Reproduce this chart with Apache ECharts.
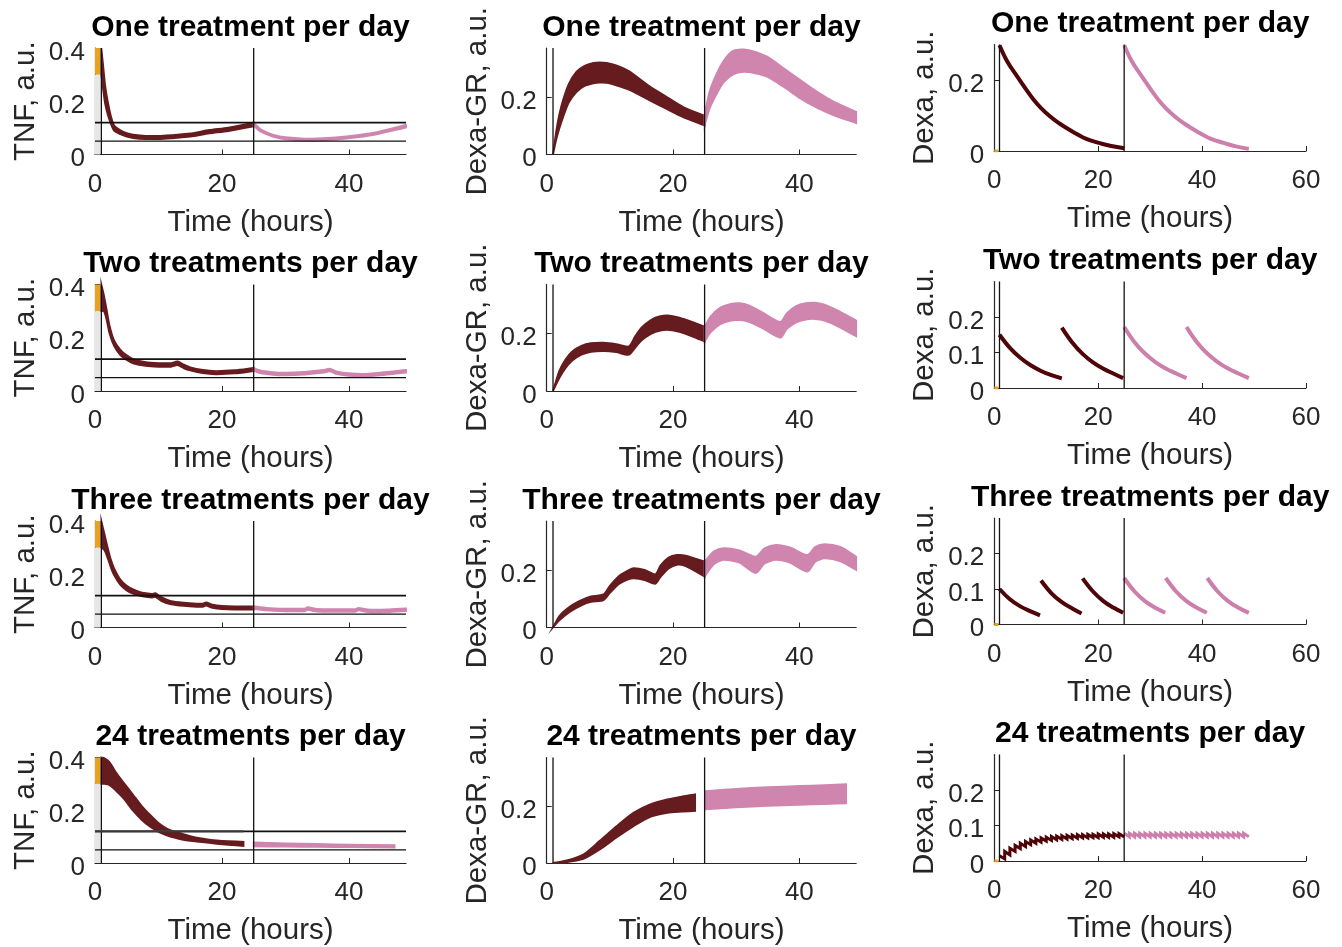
<!DOCTYPE html>
<html>
<head>
<meta charset="utf-8">
<title>Dexamethasone dosing schedules</title>
<script src="https://cdn.jsdelivr.net/npm/echarts@6/dist/echarts.min.js"></script>
<style>
  html, body { margin: 0; padding: 0; background: #fff; }
  #chart { width: 1342px; height: 947px; }
</style>
</head>
<body>
<div id="chart"></div>
<script>
// ---- labels ----
var rowTitles = ['One treatment per day', 'Two treatments per day', 'Three treatments per day', '24 treatments per day'];
var colNames = ['TNF, a.u.', 'Dexa-GR, a.u.', 'Dexa, a.u.'];
var xTicksShort = [0, 20, 40];
var xTicksLong = [0, 20, 40, 60];
var tnfTicks = [0, 0.2, 0.4];
var grTicks = [0, 0.2];
var dexaTicksOne = [0, 0.2];
var dexaTicks = [0, 0.1, 0.2];

// reference marks
var doseLines = [1, 25];          // vertical lines (hours)
var tnfLimits = [0.12, 0.05];     // horizontal TNF thresholds
var tnfStartRange = [0.3, 0.4];   // orange initial TNF box
var tnfStartWindow = [0, 0.8];

// ---- TNF, one treatment ----
var tnf1DarkT  = [1, 1.3, 1.6, 2, 2.5, 3, 4, 5, 6, 8, 10, 12, 15, 18, 21, 25];
var tnf1DarkLo = [0.30, 0.24, 0.19, 0.15, 0.115, 0.09, 0.076, 0.067, 0.062, 0.058, 0.058, 0.061, 0.067, 0.079, 0.088, 0.106];
var tnf1DarkHi = [0.40, 0.33, 0.26, 0.20, 0.145, 0.11, 0.091, 0.080, 0.075, 0.070, 0.070, 0.073, 0.079, 0.092, 0.101, 0.120];
var tnf1PinkT  = [25, 26, 27, 28, 30, 33, 36, 40, 44, 49];
var tnf1PinkLo = [0.108, 0.087, 0.076, 0.067, 0.057, 0.052, 0.053, 0.061, 0.074, 0.101];
var tnf1PinkHi = [0.120, 0.097, 0.084, 0.075, 0.065, 0.060, 0.061, 0.069, 0.082, 0.111];

// ---- TNF, two treatments ----
var tnf2DarkT  = [1, 1.4, 1.8, 2.3, 3, 4, 5, 6, 8, 10, 12, 13, 14, 15, 17, 19, 22, 25];
var tnf2DarkLo = [0.30, 0.30, 0.27, 0.215, 0.17, 0.135, 0.116, 0.104, 0.094, 0.091, 0.091, 0.097, 0.085, 0.077, 0.067, 0.063, 0.066, 0.075];
var tnf2DarkHi = [0.40, 0.36, 0.31, 0.245, 0.19, 0.155, 0.134, 0.120, 0.108, 0.105, 0.105, 0.111, 0.099, 0.089, 0.079, 0.075, 0.078, 0.087];
var tnf2PinkT  = [25, 26, 28, 30, 33, 36, 37, 38, 40, 42, 45, 49];
var tnf2PinkLo = [0.076, 0.067, 0.061, 0.059, 0.062, 0.069, 0.074, 0.064, 0.057, 0.054, 0.059, 0.069];
var tnf2PinkHi = [0.086, 0.077, 0.071, 0.069, 0.072, 0.079, 0.084, 0.074, 0.067, 0.064, 0.069, 0.079];

// ---- TNF, three treatments ----
var tnf3DarkT  = [1, 1.5, 2, 2.5, 3, 4, 5, 6, 7, 8, 9, 9.5, 10.5, 12, 14, 16, 17, 17.5, 18.5, 20, 22, 25];
var tnf3DarkLo = [0.30, 0.29, 0.26, 0.225, 0.197, 0.16, 0.139, 0.127, 0.120, 0.115, 0.112, 0.115, 0.099, 0.087, 0.081, 0.078, 0.078, 0.082, 0.074, 0.069, 0.067, 0.067];
var tnf3DarkHi = [0.40, 0.35, 0.30, 0.255, 0.223, 0.18, 0.157, 0.143, 0.134, 0.129, 0.126, 0.129, 0.113, 0.099, 0.093, 0.090, 0.090, 0.094, 0.086, 0.081, 0.079, 0.079];
var tnf3PinkT  = [25, 27, 30, 33, 33.5, 35, 38, 41, 41.5, 43, 46, 49];
var tnf3PinkLo = [0.070, 0.064, 0.061, 0.061, 0.066, 0.060, 0.059, 0.059, 0.064, 0.058, 0.058, 0.062];
var tnf3PinkHi = [0.080, 0.074, 0.071, 0.071, 0.076, 0.070, 0.069, 0.069, 0.074, 0.068, 0.068, 0.072];

// ---- TNF, 24 treatments ----
var tnf4DarkT  = [1, 1.5, 2.3, 3.4, 4.5, 6, 7.3, 8.7, 10, 11.3, 12.5, 13.9, 15, 16.5, 18, 19.2, 21, 23.4];
var tnf4DarkLo = [0.300, 0.300, 0.295, 0.272, 0.245, 0.198, 0.165, 0.137, 0.118, 0.105, 0.096, 0.088, 0.084, 0.080, 0.076, 0.073, 0.069, 0.064];
var tnf4DarkHi = [0.400, 0.397, 0.382, 0.340, 0.305, 0.259, 0.218, 0.182, 0.152, 0.131, 0.120, 0.110, 0.102, 0.094, 0.089, 0.086, 0.083, 0.080];
var tnf4PinkT  = [25, 30, 35, 40, 47.2];
var tnf4PinkLo = [0.063, 0.062, 0.061, 0.060, 0.058];
var tnf4PinkHi = [0.078, 0.074, 0.072, 0.070, 0.068];

// ---- Dexa-GR ----
var gr1DarkT  = [1, 1.5, 2, 2.6, 3.5, 4.7, 6, 7.4, 8.4, 9.5, 11, 13, 16.4, 19, 21.6, 25];
var gr1DarkLo = [0, 0.05, 0.09, 0.13, 0.18, 0.217, 0.238, 0.247, 0.25, 0.249, 0.24, 0.225, 0.187, 0.158, 0.13, 0.101];
var gr1DarkHi = [0, 0.08, 0.14, 0.19, 0.245, 0.287, 0.308, 0.318, 0.32, 0.318, 0.31, 0.29, 0.235, 0.20, 0.165, 0.135];
var gr1PinkT  = [25, 25.8, 26.9, 28, 29.5, 31.2, 33, 34.9, 37.5, 40.2, 43, 45.5, 49];
var gr1PinkLo = [0.10, 0.16, 0.21, 0.25, 0.278, 0.287, 0.282, 0.27, 0.235, 0.194, 0.16, 0.136, 0.109];
var gr1PinkHi = [0.14, 0.22, 0.28, 0.325, 0.36, 0.365, 0.357, 0.34, 0.30, 0.258, 0.215, 0.183, 0.148];

var gr2DarkT  = [1, 2, 3, 4, 5.5, 7, 9, 11, 13, 14, 15, 16.5, 18, 19.5, 21, 23, 25];
var gr2DarkLo = [0, 0.045, 0.08, 0.105, 0.126, 0.136, 0.139, 0.135, 0.126, 0.15, 0.175, 0.198, 0.21, 0.212, 0.205, 0.19, 0.172];
var gr2DarkHi = [0, 0.07, 0.11, 0.137, 0.157, 0.166, 0.168, 0.163, 0.155, 0.19, 0.22, 0.247, 0.26, 0.262, 0.255, 0.24, 0.223];
var gr2PinkT  = [25, 26, 27.5, 29, 30.5, 32, 34, 37, 38, 39.5, 41, 42.5, 44, 46, 49];
var gr2PinkLo = [0.172, 0.205, 0.232, 0.244, 0.246, 0.24, 0.22, 0.185, 0.215, 0.238, 0.248, 0.25, 0.244, 0.225, 0.19];
var gr2PinkHi = [0.223, 0.26, 0.29, 0.302, 0.305, 0.298, 0.275, 0.24, 0.27, 0.295, 0.305, 0.307, 0.30, 0.28, 0.245];

var gr3DarkT  = [1, 2, 3.7, 5.5, 7, 9, 10, 11.5, 13, 13.8, 15.5, 17.2, 18, 19.3, 20.6, 22, 25];
var gr3DarkLo = [0, 0.025, 0.055, 0.077, 0.089, 0.095, 0.12, 0.152, 0.168, 0.171, 0.165, 0.152, 0.175, 0.205, 0.218, 0.213, 0.177];
var gr3DarkHi = [0, 0.04, 0.073, 0.095, 0.108, 0.115, 0.145, 0.18, 0.20, 0.206, 0.20, 0.185, 0.215, 0.243, 0.252, 0.25, 0.229];
var gr3PinkT  = [25, 26.5, 28, 30.5, 33.1, 34.5, 36.3, 38.5, 41.3, 42.5, 44, 46.5, 49];
var gr3PinkLo = [0.177, 0.22, 0.235, 0.225, 0.189, 0.222, 0.235, 0.225, 0.194, 0.228, 0.24, 0.23, 0.20];
var gr3PinkHi = [0.229, 0.265, 0.276, 0.268, 0.246, 0.275, 0.287, 0.278, 0.252, 0.28, 0.29, 0.28, 0.246];

var gr4DarkT  = [1, 3, 5.8, 8.4, 11.1, 13.8, 16.4, 19.1, 21.5, 23.5];
var gr4DarkLo = [0, 0.002, 0.014, 0.047, 0.09, 0.13, 0.162, 0.176, 0.18, 0.183];
var gr4DarkHi = [0, 0.008, 0.030, 0.078, 0.13, 0.177, 0.206, 0.223, 0.234, 0.241];
var gr4PinkT  = [25.2, 30, 35, 40, 44, 47.4];
var gr4PinkLo = [0.188, 0.195, 0.20, 0.204, 0.207, 0.209];
var gr4PinkHi = [0.252, 0.26, 0.266, 0.27, 0.273, 0.276];

// ---- Dexa (one curve per dose) ----
var dexa1DarkT = [[1, 2.5, 4.3, 6, 7.5, 9, 10.7, 12.3, 13.9, 15.5, 17.1, 18.7, 20.3, 22.5, 25]];
var dexa1DarkY = [[0.298, 0.252, 0.212, 0.176, 0.146, 0.121, 0.098, 0.080, 0.065, 0.051, 0.038, 0.029, 0.022, 0.014, 0.008]];
var dexa1PinkT = [[25, 26.5, 28.3, 30, 31.5, 33, 34.7, 36.3, 37.9, 39.5, 41.1, 42.7, 44.3, 46.5, 49]];
var dexa1PinkY = [[0.298, 0.252, 0.212, 0.176, 0.146, 0.121, 0.098, 0.080, 0.065, 0.051, 0.038, 0.029, 0.022, 0.013, 0.006]];

var dexa2DarkT = [[1, 3, 5, 7, 9, 11, 13], [13, 15, 17, 19, 21, 23, 24.8]];
var dexa2DarkY = [[0.150, 0.113, 0.085, 0.064, 0.048, 0.036, 0.027], [0.170, 0.128, 0.096, 0.072, 0.054, 0.040, 0.028]];
var dexa2PinkT = [[25, 27, 29, 31, 33, 35, 37], [37, 39, 41, 43, 45, 47, 49]];
var dexa2PinkY = [[0.172, 0.129, 0.097, 0.073, 0.055, 0.041, 0.028], [0.172, 0.129, 0.097, 0.073, 0.055, 0.041, 0.028]];

var dexa3DarkT = [[1, 3, 5, 7, 8.8], [9, 11, 13, 15, 16.8], [17, 19, 21, 23, 24.8]];
var dexa3DarkY = [[0.100, 0.071, 0.051, 0.037, 0.026], [0.124, 0.088, 0.063, 0.045, 0.031], [0.130, 0.093, 0.066, 0.047, 0.033]];
var dexa3PinkT = [[25, 27, 29, 31, 32.9], [33, 35, 37, 39, 40.9], [41, 43, 45, 47, 49]];
var dexa3PinkY = [[0.131, 0.093, 0.066, 0.047, 0.033], [0.131, 0.093, 0.066, 0.047, 0.033], [0.131, 0.093, 0.066, 0.047, 0.033]];

// 24 per day: peak right after each hourly dose, trough just before the next
var dexa24DarkT = [1, 2, 3, 4, 5, 6, 7, 8, 9, 10, 11, 12, 13, 14, 15, 16, 17, 18, 19, 20, 21, 22, 23, 24, 25];
var dexa24DarkPeak = [0.015, 0.027, 0.036, 0.044, 0.050, 0.055, 0.059, 0.062, 0.065, 0.067, 0.069, 0.070, 0.071, 0.072, 0.073, 0.074, 0.074, 0.075, 0.075, 0.076, 0.076, 0.076, 0.077, 0.077];
var dexa24DarkTrough = [0.006, 0.017, 0.027, 0.035, 0.041, 0.046, 0.050, 0.053, 0.056, 0.058, 0.060, 0.061, 0.062, 0.063, 0.064, 0.065, 0.065, 0.066, 0.066, 0.067, 0.067, 0.067, 0.068, 0.068];
var dexa24PinkT = [25, 26, 27, 28, 29, 30, 31, 32, 33, 34, 35, 36, 37, 38, 39, 40, 41, 42, 43, 44, 45, 46, 47, 48, 49];
var dexa24PinkPeak = [0.078, 0.078, 0.078, 0.078, 0.078, 0.078, 0.078, 0.078, 0.078, 0.078, 0.078, 0.078, 0.078, 0.078, 0.078, 0.078, 0.078, 0.078, 0.078, 0.078, 0.078, 0.078, 0.078, 0.078];
var dexa24PinkTrough = [0.068, 0.068, 0.068, 0.068, 0.068, 0.068, 0.068, 0.068, 0.068, 0.068, 0.068, 0.068, 0.068, 0.068, 0.068, 0.068, 0.068, 0.068, 0.068, 0.068, 0.068, 0.068, 0.068, 0.068];

// ---- style ----
var FONT = "'Liberation Sans', Arial, Helvetica, sans-serif";
var INK = '#262626';
var DARK_BAND = '#661b1e';
var PINK_BAND = '#cf85ae';
var DARK_LINE = '#4f0408';
var PINK_LINE = '#cd7fac';
var ORANGE = '#e8a21c';

var colLeft = [95, 546.7, 994.3];
var colWidth = [311, 309.5, 311.7];
var rowTop = [[48, 284.5, 521, 757.5], [48, 284.5, 521, 757.5], [44.5, 281.5, 518, 754.5]];
var PANEL_H = 106.5;
var xMax = [49, 49, 60];
var yMax = [0.4, 0.37, 0.3];

var grid = [], xAxis = [], yAxis = [], series = [], title = [];

function addPanel(r, c, xTicks, yTicks) {
  var gi = grid.length;
  grid.push({ left: colLeft[c], top: rowTop[c][r], width: colWidth[c], height: PANEL_H });
  xAxis.push({
    gridIndex: gi, type: 'value', min: 0, max: xMax[c],
    name: 'Time (hours)', nameLocation: 'middle', nameGap: 53,
    nameTextStyle: { fontSize: 29.5, color: INK, fontFamily: FONT },
    axisLine: { show: true, onZero: false, lineStyle: { color: INK, width: 1.2 } },
    axisTick: { show: true, inside: true, length: 5, lineStyle: { color: INK }, customValues: xTicks },
    axisLabel: { fontSize: 26, color: INK, margin: 17, fontFamily: FONT, customValues: xTicks },
    splitLine: { show: false }
  });
  yAxis.push({
    gridIndex: gi, type: 'value', min: 0, max: yMax[c],
    name: colNames[c], nameLocation: 'middle', nameGap: 54,
    nameTextStyle: { fontSize: 29.5, color: INK, fontFamily: FONT },
    axisLine: { show: true, onZero: false, lineStyle: { color: INK, width: 1.2 } },
    axisTick: { show: true, inside: true, length: 5, lineStyle: { color: INK }, customValues: yTicks },
    // MATLAB draws these labels a few pixels below their tick
    axisLabel: { fontSize: 26, color: INK, margin: 10, fontFamily: FONT, customValues: yTicks,
                 verticalAlign: 'top', lineHeight: 9 },
    splitLine: { show: false }
  });
  title.push({
    text: rowTitles[r], left: colLeft[c] + colWidth[c] / 2, top: rowTop[c][r] - 35.5,
    textAlign: 'center', padding: 0,
    textStyle: { fontSize: 30, fontWeight: 'bold', color: '#000', fontFamily: FONT }
  });
  return gi;
}

// filled band between lo and hi, one polygon through the axis scales.
// end points are doubled so the smoothing keeps the cut ends straight
function band(gi, t, lo, hi, color) {
  series.push({
    type: 'custom', xAxisIndex: gi, yAxisIndex: gi, silent: true, z: 3,
    data: t.map(function (x, i) { return [x, lo[i], hi[i]]; }),
    encode: { x: 0, y: [1, 2] },
    renderItem: function (params, api) {
      if (params.dataIndex !== 0) return null;
      var n = t.length, pts = [];
      pts.push(api.coord([t[0], hi[0]]));
      for (var i = 0; i < n; i++) pts.push(api.coord([t[i], hi[i]]));
      pts.push(api.coord([t[n - 1], hi[n - 1]]));
      pts.push(api.coord([t[n - 1], lo[n - 1]]));
      for (var j = n - 1; j >= 0; j--) pts.push(api.coord([t[j], lo[j]]));
      pts.push(api.coord([t[0], lo[0]]));
      return {
        type: 'polygon',
        shape: { points: pts, smooth: 0.25 },
        style: { fill: color, stroke: color, lineWidth: 1.8 }
      };
    }
  });
}

function curve(gi, t, y, color, width, smooth) {
  series.push({
    type: 'line', xAxisIndex: gi, yAxisIndex: gi, silent: true, z: 3,
    symbol: 'none', smooth: smooth, clip: false,
    lineStyle: { color: color, width: width },
    data: t.map(function (x, i) { return [x, y[i]]; })
  });
}

function segment(gi, pts, color, width, z) {
  series.push({
    type: 'line', xAxisIndex: gi, yAxisIndex: gi, silent: true, z: z || 4,
    symbol: 'none', lineStyle: { color: color, width: width, join: 'miter' },
    data: pts
  });
}

function doseMarks(gi, c) {
  doseLines.forEach(function (d) {
    segment(gi, [[d, 0], [d, yMax[c]]], '#111', 1.3, 5);
  });
}

function sawtooth(t, peak, trough) {
  var pts = [];
  for (var i = 0; i < peak.length; i++) {
    pts.push([t[i], peak[i]]);
    pts.push([t[i + 1], trough[i]]);
  }
  return pts;
}

var tnfRows = [
  [tnf1DarkT, tnf1DarkLo, tnf1DarkHi, tnf1PinkT, tnf1PinkLo, tnf1PinkHi],
  [tnf2DarkT, tnf2DarkLo, tnf2DarkHi, tnf2PinkT, tnf2PinkLo, tnf2PinkHi],
  [tnf3DarkT, tnf3DarkLo, tnf3DarkHi, tnf3PinkT, tnf3PinkLo, tnf3PinkHi],
  [tnf4DarkT, tnf4DarkLo, tnf4DarkHi, tnf4PinkT, tnf4PinkLo, tnf4PinkHi]
];
var grRows = [
  [gr1DarkT, gr1DarkLo, gr1DarkHi, gr1PinkT, gr1PinkLo, gr1PinkHi],
  [gr2DarkT, gr2DarkLo, gr2DarkHi, gr2PinkT, gr2PinkLo, gr2PinkHi],
  [gr3DarkT, gr3DarkLo, gr3DarkHi, gr3PinkT, gr3PinkLo, gr3PinkHi],
  [gr4DarkT, gr4DarkLo, gr4DarkHi, gr4PinkT, gr4PinkLo, gr4PinkHi]
];
var dexaRows = [
  [dexa1DarkT, dexa1DarkY, dexa1PinkT, dexa1PinkY],
  [dexa2DarkT, dexa2DarkY, dexa2PinkT, dexa2PinkY],
  [dexa3DarkT, dexa3DarkY, dexa3PinkT, dexa3PinkY]
];

for (var r = 0; r < 4; r++) {
  // TNF
  var g = addPanel(r, 0, xTicksShort, tnfTicks);
  var d = tnfRows[r];
  series.push({
    type: 'line', xAxisIndex: g, yAxisIndex: g, silent: true, data: [],
    markArea: {
      silent: true,
      data: [
        [{ coord: [tnfStartWindow[0], 0], itemStyle: { color: '#e6e6e6' } }, { coord: [tnfStartWindow[1], tnfStartRange[0]] }],
        [{ coord: [tnfStartWindow[0], tnfStartRange[0]], itemStyle: { color: ORANGE } }, { coord: [tnfStartWindow[1], tnfStartRange[1]] }]
      ]
    }
  });
  band(g, d[0], d[1], d[2], DARK_BAND);
  band(g, d[3], d[4], d[5], PINK_BAND);
  if (r === 3) {
    segment(g, [[0, tnfLimits[0]], [d[0][d[0].length - 1], tnfLimits[0]]], 'rgba(70,70,70,0.8)', 2.5, 6);
  }
  segment(g, [[0, tnfLimits[0]], [xMax[0], tnfLimits[0]]], '#111', 1.8, 5);
  segment(g, [[0, tnfLimits[1]], [xMax[0], tnfLimits[1]]], '#111', 1.2, 5);
  doseMarks(g, 0);

  // Dexa-GR
  g = addPanel(r, 1, xTicksShort, grTicks);
  d = grRows[r];
  band(g, d[0], d[1], d[2], DARK_BAND);
  band(g, d[3], d[4], d[5], PINK_BAND);
  doseMarks(g, 1);

  // Dexa
  g = addPanel(r, 2, xTicksLong, r === 0 ? dexaTicksOne : dexaTicks);
  segment(g, [[0, 0], [tnfStartWindow[1], 0]], ORANGE, 3, 6);
  if (r < 3) {
    d = dexaRows[r];
    d[0].forEach(function (t, k) { curve(g, t, d[1][k], DARK_LINE, 4, 0.4); });
    d[2].forEach(function (t, k) { curve(g, t, d[3][k], PINK_LINE, 4, 0.4); });
  } else {
    segment(g, sawtooth(dexa24DarkT, dexa24DarkPeak, dexa24DarkTrough), DARK_LINE, 3, 3);
    segment(g, sawtooth(dexa24PinkT, dexa24PinkPeak, dexa24PinkTrough), PINK_LINE, 3, 3);
  }
  doseMarks(g, 2);
}

var chart = echarts.init(document.getElementById('chart'), null, { renderer: 'canvas' });
chart.setOption({
  animation: false,
  backgroundColor: '#ffffff',
  textStyle: { fontFamily: FONT },
  title: title,
  grid: grid,
  xAxis: xAxis,
  yAxis: yAxis,
  series: series
});
</script>
</body>
</html>
